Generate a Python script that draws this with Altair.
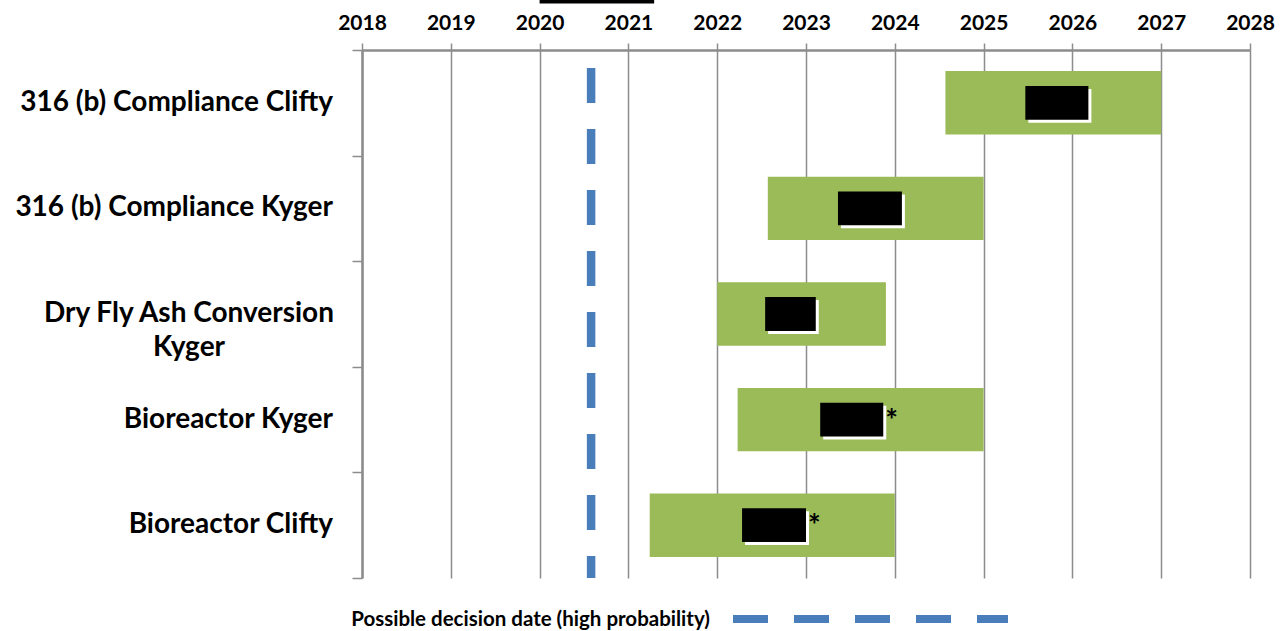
import altair as alt
import pandas as pd

# ---- data ----
categories = ["316 (b) Compliance Clifty", "316 (b) Compliance Kyger",
              "Dry Fly Ash Conversion|Kyger", "Bioreactor Kyger", "Bioreactor Clifty"]
range_start = [2024.57, 2022.57, 2022.0, 2022.23, 2021.24]
range_end = [2027.0, 2025.0, 2023.9, 2025.0, 2024.0]
likely_start = [2025.47, 2023.36, 2022.54, 2023.16, 2022.28]
likely_end = [2026.18, 2024.08, 2023.11, 2023.87, 2023.0]
asterisk = ["", "", "", "*", "*"]
decision_date = [2020.58]
legend_label = ["Possible decision date (high probability)"]
years = list(range(2018, 2029))
redaction = [(2020.0, 2021.29)]

FONT = "Lato"
GREEN = "#9bbb59"
BLUE = "#4a7ebb"
GRID = "#8c8c8c"

rows = pd.DataFrame({
    "cat": categories,
    "idx": list(range(len(categories))),
    "s": range_start, "e": range_end,
    "bs": likely_start, "be": likely_end,
    "ast": asterisk,
})
rows["g0"] = rows["idx"] + 0.2
rows["g1"] = rows["idx"] + 0.8
rows["b0"] = rows["idx"] + 0.34
rows["b1"] = rows["idx"] + 0.66
rows["mid"] = rows["idx"] + 0.5
rows["multi"] = rows["cat"].str.contains(r"\|")

base = alt.Chart(rows)
xs = alt.Scale(domain=[2018, 2028], nice=False, zero=False)
ys = alt.Scale(domain=[0, 5], reverse=True, nice=False, zero=False)

green = base.mark_rect(color=GREEN).encode(
    x=alt.X("s:Q", scale=xs, title=None,
            axis=alt.Axis(orient="top", values=years, format="d", grid=True,
                          gridColor=GRID, gridWidth=1.5, domainColor=GRID,
                          domainWidth=2.5, tickColor=GRID, tickWidth=1.5,
                          tickSize=7, labelFont=FONT, labelFontSize=21,
                          labelFontWeight="bold", labelColor="black",
                          labelPadding=10, labelFlush=False, labelOverlap=False,
                          title=None)),
    x2="e:Q",
    y=alt.Y("g0:Q", scale=ys, title=None,
            axis=alt.Axis(values=[0, 1, 2, 3, 4, 5], labels=False, grid=False,
                          domainColor=GRID, domainWidth=2.5, tickColor=GRID,
                          tickWidth=1.5, tickSize=10, title=None)),
    y2="g1:Q",
)

shadow = base.mark_rect(color="white", xOffset=3, x2Offset=3, yOffset=3, y2Offset=3).encode(
    x=alt.X("bs:Q", scale=xs, title=None), x2="be:Q",
    y=alt.Y("b0:Q", scale=ys, title=None), y2="b1:Q",
)
black = base.mark_rect(color="black").encode(
    x=alt.X("bs:Q", scale=xs, title=None), x2="be:Q",
    y=alt.Y("b0:Q", scale=ys, title=None), y2="b1:Q",
)
stars = base.mark_text(align="left", baseline="middle", dx=2, dy=2, font=FONT,
                       fontSize=30, fontWeight="bold", color="black").encode(
    x=alt.X("be:Q", scale=xs, title=None),
    y=alt.Y("mid:Q", scale=ys, title=None),
    text="ast:N",
)

dec = pd.DataFrame({"d": decision_date})
dash = alt.Chart(dec).mark_rule(color=BLUE, strokeWidth=8.5, strokeDash=[35, 26],
                                strokeDashOffset=43).encode(
    x=alt.X("d:Q", scale=xs, title=None),
    y=alt.value(0), y2=alt.value(528),
)

labels_single = base.transform_filter("!datum.multi").mark_text(
    align="right", baseline="middle", font=FONT, fontSize=28, fontWeight="bold",
    color="black").encode(
    x=alt.value(-29),
    y=alt.Y("mid:Q", scale=ys, title=None),
    text="cat:N",
)
labels_multi = base.transform_filter("datum.multi").mark_text(
    align="center", baseline="middle", font=FONT, fontSize=28, fontWeight="bold",
    color="black", lineBreak="|", lineHeight=34).encode(
    x=alt.value(-173),
    y=alt.Y("mid:Q", scale=ys, title=None),
    text="cat:N",
)

leg = pd.DataFrame({"t": legend_label})
leg_rule = alt.Chart(leg).mark_rule(color=BLUE, strokeWidth=8, strokeDash=[35, 26]).encode(
    x=alt.value(371), x2=alt.value(646), y=alt.value(569),
)
leg_text = alt.Chart(leg).mark_text(align="right", baseline="middle", font=FONT,
                                    fontSize=20.5, fontWeight="bold", color="black").encode(
    x=alt.value(348), y=alt.value(570), text="t:N",
)

red = pd.DataFrame({"a": [r[0] for r in redaction], "b": [r[1] for r in redaction]})
red_bar = alt.Chart(red).mark_rect(color="black").encode(
    x=alt.X("a:Q", scale=xs, title=None), x2="b:Q",
    y=alt.value(-50), y2=alt.value(-46.5),
)

chart = alt.layer(
    green, shadow, black, stars, dash, labels_single, labels_multi,
    leg_rule, leg_text, red_bar,
).properties(
    width=888, height=528,
    autosize=alt.AutoSizeParams(type="none"),
    padding={"left": 362, "top": 50, "right": 30, "bottom": 53},
    background="white",
).configure_view(stroke=None)

chart.save("out.html", embed_options={"renderer": "svg", "actions": False})
